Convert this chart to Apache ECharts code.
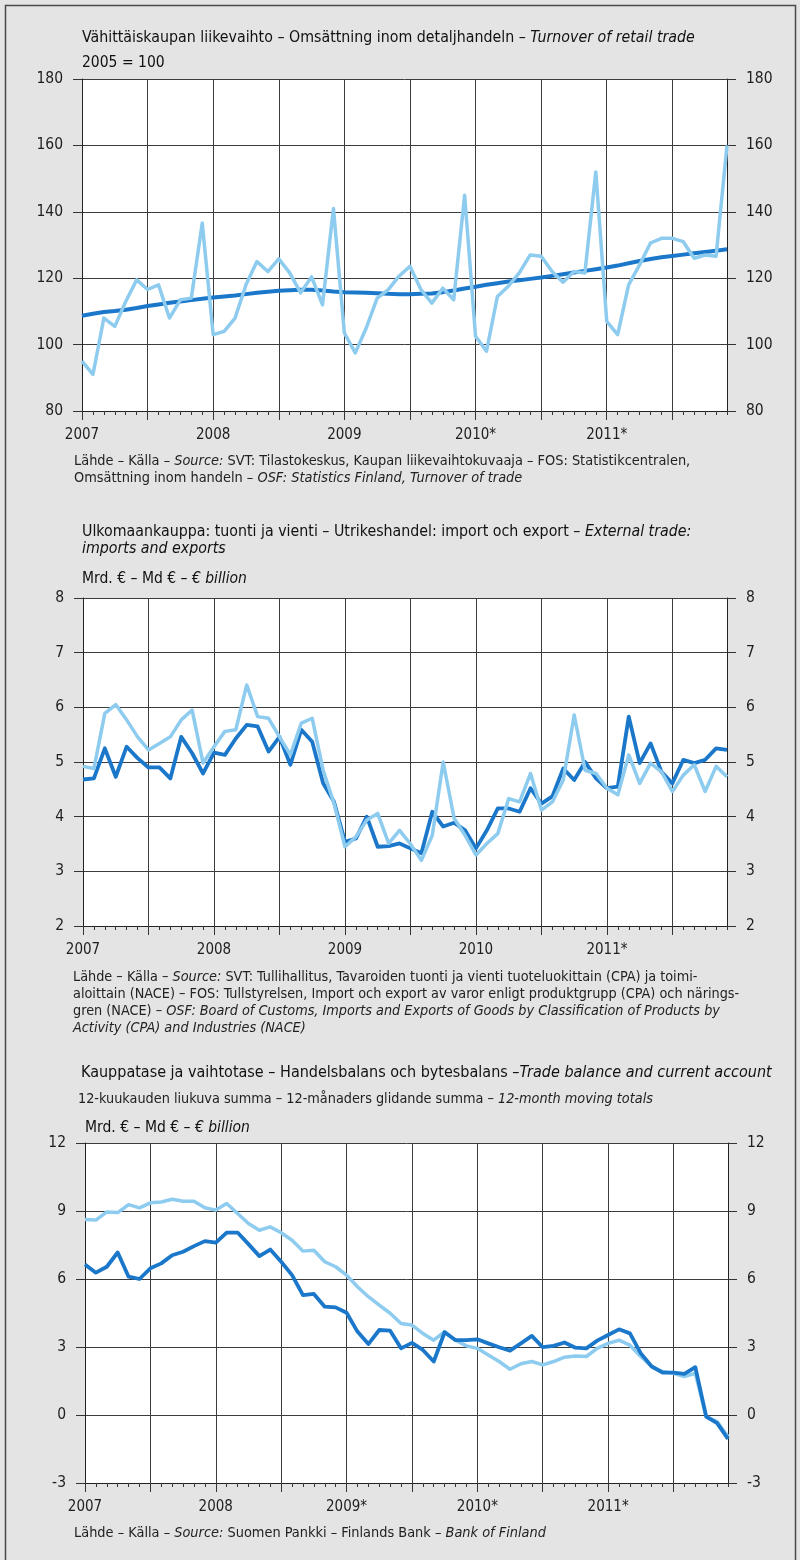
<!DOCTYPE html>
<html>
<head>
<meta charset="utf-8">
<script src="https://cdn.jsdelivr.net/npm/echarts@6/dist/echarts.min.js"></script>
<style>
html,body{margin:0;padding:0;background:#e4e4e4;}
#c{width:800px;height:1560px;}
</style>
</head>
<body>
<div id="c"></div>
<script>
// ---- categories (monthly, Jan 2007 .. Dec 2011) ----
const months = [];
for (let y = 2007; y <= 2011; y++) for (let m = 1; m <= 12; m++) months.push(y + '-' + (m < 10 ? '0' : '') + m);

// ---- tick labels ----
const yearLabels1 = ['2007', '2008', '2009', '2010*', '2011*'];
const yearLabels2 = ['2007', '2008', '2009', '2010', '2011*'];
const yearLabels3 = ['2007', '2008', '2009*', '2010*', '2011*'];

// ---- chart 1: turnover of retail trade, 2005 = 100 ----
const retailMonthly = [
  95, 91, 108, 105.5, 113, 119.5, 116.6, 118, 108, 113.5, 114, 136.6,
  103, 104, 108, 118, 125, 122, 125.8, 121.6, 115.6, 120.4, 112, 141,
  103.5, 97.5, 105, 114, 116.5, 120.6, 123.6, 116.6, 112.5, 117, 113.5, 145,
  102.5, 98, 114.5, 117.6, 121.6, 127, 126.6, 122, 118.8, 122, 121.6, 152,
  107, 103, 118, 124, 130.6, 132, 132, 131, 126, 127, 126.6, 160
];
const retailTrend = [
  108.7, 109.3, 109.8, 110.1, 110.5, 111, 111.6, 112.1, 112.6, 113, 113.4, 113.8,
  114.2, 114.5, 114.8, 115.2, 115.6, 115.9, 116.2, 116.4, 116.5, 116.5, 116.3, 116,
  115.8, 115.7, 115.6, 115.5, 115.3, 115.2, 115.2, 115.3, 115.4, 115.8, 116.3, 116.9,
  117.4, 118, 118.5, 119, 119.4, 119.8, 120.2, 120.7, 121.2, 121.7, 122.2, 122.7,
  123.2, 123.8, 124.5, 125.2, 125.8, 126.3, 126.7, 127.1, 127.5, 127.9, 128.3, 128.7
];

// ---- chart 2: external trade, € billion ----
const tradeLight = [
  4.92, 4.88, 5.89, 6.05, 5.77, 5.46, 5.22, 5.34, 5.46, 5.77, 5.95, 4.98,
  5.28, 5.56, 5.59, 6.41, 5.83, 5.8, 5.46, 5.13, 5.71, 5.8, 4.85, 4.24,
  3.45, 3.63, 3.94, 4.06, 3.51, 3.75, 3.5, 3.2, 3.66, 5.0, 3.97, 3.66,
  3.3, 3.51, 3.69, 4.33, 4.27, 4.79, 4.12, 4.27, 4.67, 5.86, 4.85, 4.79,
  4.52, 4.4, 5.13, 4.61, 4.98, 4.82, 4.46, 4.76, 4.95, 4.46, 4.92, 4.73
];
const tradeDark = [
  4.68, 4.7, 5.25, 4.73, 5.28, 5.07, 4.9, 4.9, 4.7, 5.46, 5.16, 4.79,
  5.17, 5.13, 5.43, 5.68, 5.65, 5.19, 5.46, 4.95, 5.59, 5.37, 4.61, 4.27,
  3.54, 3.6, 4.0, 3.45, 3.46, 3.51, 3.42, 3.33, 4.09, 3.82, 3.89, 3.75,
  3.42, 3.75, 4.15, 4.15, 4.09, 4.52, 4.24, 4.37, 4.88, 4.67, 5.0, 4.7,
  4.52, 4.55, 5.83, 4.98, 5.34, 4.82, 4.61, 5.04, 4.98, 5.04, 5.25, 5.22
];

// ---- chart 3: trade balance and current account, 12-month moving totals ----
const balanceLight = [
  8.62, 8.6, 8.96, 8.93, 9.28, 9.14, 9.36, 9.4, 9.52, 9.43, 9.43, 9.14,
  9.04, 9.33, 8.89, 8.45, 8.15, 8.3, 8.04, 7.71, 7.23, 7.27, 6.76, 6.54,
  6.17, 5.66, 5.22, 4.85, 4.49, 4.04, 3.97, 3.6, 3.3, 3.68, 3.3, 3.05,
  2.94, 2.65, 2.36, 2.02, 2.26, 2.36, 2.21, 2.36, 2.55, 2.6, 2.58, 2.94,
  3.16, 3.3, 3.08, 2.58, 2.14, 1.92, 1.84, 1.7, 1.84, -0.07, -0.29, -0.95
];
const balanceDark = [
  6.64, 6.28, 6.54, 7.17, 6.1, 6.0, 6.47, 6.69, 7.05, 7.2, 7.45, 7.67,
  7.6, 8.05, 8.05, 7.54, 7.01, 7.3, 6.76, 6.17, 5.29, 5.34, 4.78, 4.75,
  4.51, 3.68, 3.13, 3.75, 3.72, 2.94, 3.18, 2.87, 2.36, 3.65, 3.3, 3.3,
  3.34, 3.16, 2.99, 2.84, 3.16, 3.49, 2.99, 3.05, 3.2, 2.97, 2.94, 3.28,
  3.53, 3.78, 3.6, 2.72, 2.14, 1.87, 1.87, 1.81, 2.11, -0.07, -0.36, -1.06
];

// ---- styling ----
const FONT = "'Liberation Sans Narrow','DejaVu Sans Condensed','Roboto Condensed',sans-serif";
const LIGHT = '#8dcbef';
const DARK = '#1a77c9';
const INK = '#1e1e1e';

function txt(x, yTop, lines, size, lh, color) {
  const str = lines.map(l => l.map(s => (s[1] ? '{i|' : '{n|') + s[0] + '}').join('')).join('\n');
  const base = { fontFamily: FONT, fontSize: size, fill: color, lineHeight: lh };
  return {
    type: 'text', x: x, y: yTop, silent: true, z: 10,
    style: Object.assign({ text: str, verticalAlign: 'top', align: 'left',
      rich: { n: Object.assign({}, base), i: Object.assign({ fontStyle: 'italic' }, base) } }, base)
  };
}

function xPair(g, labels) {
  const common = {
    type: 'category', data: months, boundaryGap: false, gridIndex: g, position: 'bottom',
    axisLine: { show: true, onZero: false, lineStyle: { color: '#222', width: 1 } }
  };
  return [
    Object.assign({}, common, {
      axisTick: { show: true, interval: 0, length: 4, lineStyle: { color: '#333' } },
      axisLabel: { show: false }, splitLine: { show: false }
    }),
    Object.assign({}, common, {
      axisTick: { show: true, interval: (i) => i % 6 === 0, length: 9, lineStyle: { color: '#333' } },
      axisLabel: { show: true, interval: (i) => i % 12 === 0, formatter: (v, i) => labels[Math.round(i / 12)],
        margin: 17, fontFamily: FONT, fontSize: 15, color: INK },
      splitLine: { show: true, interval: (i) => i % 6 === 0, lineStyle: { color: '#3c3c3c', width: 1 } }
    })
  ];
}

function yPair(g, min, max, interval) {
  const common = {
    type: 'value', gridIndex: g, min: min, max: max, interval: interval,
    axisLine: { show: true, lineStyle: { color: '#222' } },
    axisTick: { show: true, length: 9, lineStyle: { color: '#333' } },
    axisLabel: { margin: 19, fontFamily: FONT, fontSize: 15.5, color: INK }
  };
  return [
    Object.assign({}, common, { position: 'left', splitLine: { show: true, lineStyle: { color: '#3c3c3c', width: 1 } } }),
    Object.assign({}, common, { position: 'right', splitLine: { show: false } })
  ];
}

function line(data, xi, yi, color, width, z) {
  return { type: 'line', data: data, xAxisIndex: xi, yAxisIndex: yi, symbol: 'none', silent: true,
    lineStyle: { color: color, width: width, join: 'round' }, z: z };
}

const gridBase = { show: true, backgroundColor: '#ffffff', borderWidth: 0 };

const option = {
  animation: false,
  backgroundColor: '#e4e4e4',
  grid: [
    Object.assign({ left: 82, right: 73, top: 79, height: 332 }, gridBase),
    Object.assign({ left: 83, right: 73, top: 598, height: 328 }, gridBase),
    Object.assign({ left: 85, right: 72, top: 1143, height: 340 }, gridBase)
  ],
  xAxis: [].concat(xPair(0, yearLabels1), xPair(1, yearLabels2), xPair(2, yearLabels3)),
  yAxis: [].concat(yPair(0, 80, 180, 20), yPair(1, 2, 8, 1), yPair(2, -3, 12, 3)),
  series: [
    line(retailTrend, 1, 0, DARK, 4, 2),
    line(retailMonthly, 1, 0, LIGHT, 3.5, 3),
    line(tradeDark, 3, 2, DARK, 3.8, 2),
    line(tradeLight, 3, 2, LIGHT, 3.5, 3),
    line(balanceLight, 5, 4, LIGHT, 3.5, 2),
    line(balanceDark, 5, 4, DARK, 3.8, 3)
  ],
  graphic: [
    { type: 'polyline', silent: true, shape: { points: [[5.5, 1560], [5.5, 5.5], [795.5, 5.5], [795.5, 1560]] },
      style: { stroke: '#4a4a4a', lineWidth: 1.5, fill: null } },
    txt(82, 29, [[['Vähittäiskaupan liikevaihto – Omsättning inom detaljhandeln – ', 0], ['Turnover of retail trade', 1]]], 15.8, 18, '#111'),
    txt(82, 54, [[['2005 = 100', 0]]], 15.5, 18, '#111'),
    txt(74, 453, [
      [['Lähde – Källa – ', 0], ['Source:', 1], [' SVT: Tilastokeskus, Kaupan liikevaihtokuvaaja – FOS: Statistikcentralen,', 0]],
      [['Omsättning inom handeln – ', 0], ['OSF: Statistics Finland, Turnover of trade', 1]]
    ], 14.4, 17, '#222'),
    txt(82, 523, [
      [['Ulkomaankauppa: tuonti ja vienti – Utrikeshandel: import och export – ', 0], ['External trade:', 1]],
      [['imports and exports', 1]]
    ], 15.8, 17, '#111'),
    txt(82, 570, [[['Mrd. € – Md € – ', 0], ['€ billion', 1]]], 15.5, 18, '#111'),
    txt(73, 969, [
      [['Lähde – Källa – ', 0], ['Source:', 1], [' SVT: Tullihallitus, Tavaroiden tuonti ja vienti tuoteluokittain (CPA) ja toimi-', 0]],
      [['aloittain (NACE) – FOS: Tullstyrelsen, Import och export av varor enligt produktgrupp (CPA) och närings-', 0]],
      [['gren (NACE) – ', 0], ['OSF: Board of Customs, Imports and Exports of Goods by Classification of Products by', 1]],
      [['Activity (CPA) and Industries (NACE)', 1]]
    ], 14.3, 17, '#222'),
    txt(81, 1064, [[['Kauppatase ja vaihtotase – Handelsbalans och bytesbalans –', 0], ['Trade balance and current account', 1]]], 16, 18, '#111'),
    txt(78, 1090, [[['12-kuukauden liukuva summa – 12-månaders glidande summa – ', 0], ['12-month moving totals', 1]]], 14.3, 18, '#222'),
    txt(85, 1119, [[['Mrd. € – Md € – ', 0], ['€ billion', 1]]], 15.5, 18, '#111'),
    txt(74, 1525, [[['Lähde – Källa – ', 0], ['Source:', 1], [' Suomen Pankki – Finlands Bank – ', 0], ['Bank of Finland', 1]]], 14.4, 17, '#222')
  ]
};

const chart = echarts.init(document.getElementById('c'), null, { renderer: 'canvas' });
chart.setOption(option);
</script>
</body>
</html>
